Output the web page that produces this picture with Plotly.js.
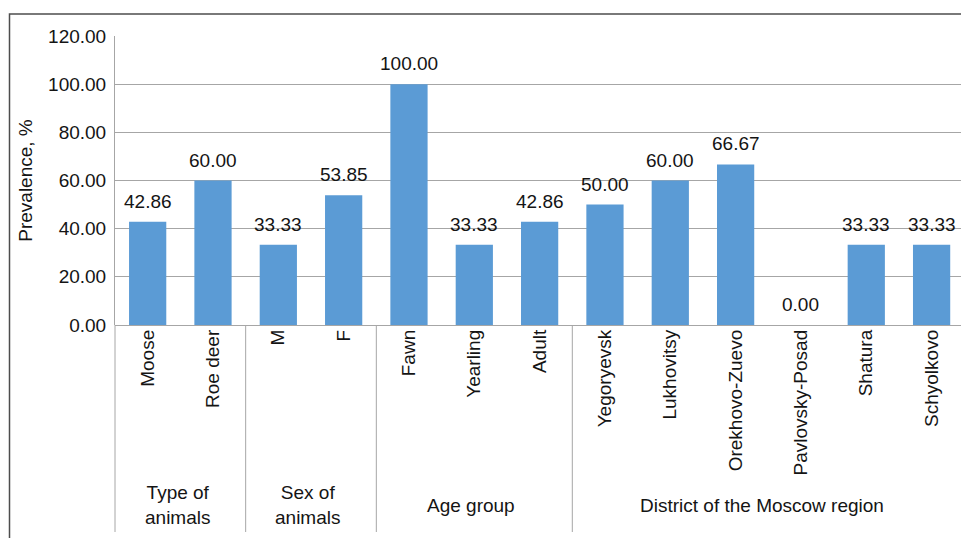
<!DOCTYPE html>
<html>
<head>
<meta charset="utf-8">
<script src="https://cdn.plot.ly/plotly-3.0.1.min.js"></script>
<style>
  html, body { margin: 0; padding: 0; background: #fff; }
  #chart { width: 961px; height: 538px; }
</style>
</head>
<body>
<div id="chart"></div>
<script>
// ---- data ----
const categories = ['Moose', 'Roe deer', 'M', 'F', 'Fawn', 'Yearling', 'Adult',
  'Yegoryevsk', 'Lukhovitsy', 'Orekhovo-Zuevo', 'Pavlovsky-Posad', 'Shatura', 'Schyolkovo'];
const prevalence = [42.86, 60.00, 33.33, 53.85, 100.00, 33.33, 42.86,
  50.00, 60.00, 66.67, 0.00, 33.33, 33.33];
const groupLabels = ['Type of<br>animals', 'Sex of<br>animals', 'Age group', 'District of the Moscow region'];
const groupSizes = [2, 2, 3, 6];
const yTitle = 'Prevalence, %';

// ---- layout constants ----
const W = 961, H = 538;
const M = { l: 115, r: 0, t: 36, b: 213 };
const xRange = [-0.5, 12.45];
const plotH = H - M.t - M.b;
const FONT = '"Liberation Sans", Arial, sans-serif';
const FS = 19;
const GRID = '#a6a6a6';
const TXT = '#141414';

const xToPaper = v => (v - xRange[0]) / (xRange[1] - xRange[0]);
const pyToPaper = py => (H - M.b - py) / plotH;

const trace = {
  type: 'bar',
  x: categories,
  y: prevalence,
  marker: { color: '#5b9bd5' },
  hoverinfo: 'x+y'
};

// value labels above bars
const annotations = categories.map((c, i) => ({
  x: c, y: prevalence[i], xref: 'x', yref: 'y',
  text: prevalence[i].toFixed(2),
  showarrow: false, yanchor: 'bottom', xanchor: 'center', yshift: 8,
  font: { family: FONT, size: FS, color: TXT }
}));

// group labels and separators
const shapes = [];
let start = 0;
const sepBottom = pyToPaper(532);
shapes.push({ type: 'line', xref: 'paper', yref: 'paper',
  x0: xToPaper(-0.5), x1: xToPaper(-0.5), y0: 0, y1: sepBottom,
  line: { color: GRID, width: 1 } });
groupSizes.forEach((n, g) => {
  const mid = start + (n - 1) / 2;
  annotations.push({
    x: xToPaper(mid), y: pyToPaper(505), xref: 'paper', yref: 'paper',
    text: groupLabels[g], showarrow: false, xanchor: 'center', yanchor: 'middle',
    xshift: g === groupSizes.length - 1 ? -6 : -3,
    font: { family: FONT, size: FS, color: TXT }
  });
  const end = start + n - 0.5;
  if (g < groupSizes.length - 1) {
    shapes.push({ type: 'line', xref: 'paper', yref: 'paper',
      x0: xToPaper(end), x1: xToPaper(end), y0: 0, y1: sepBottom,
      line: { color: GRID, width: 1 } });
  }
  start += n;
});

// outer frame (top and left edges visible)
const frameLeft = (9.5 - M.l) / (W - M.l - M.r);
shapes.push({ type: 'rect', xref: 'paper', yref: 'paper',
  x0: frameLeft, x1: 1.05, y0: -1.2, y1: pyToPaper(14),
  line: { color: '#4d4d4d', width: 1.5 }, fillcolor: 'rgba(0,0,0,0)' });

const layout = {
  width: W, height: H,
  margin: M,
  paper_bgcolor: '#fff', plot_bgcolor: '#fff',
  showlegend: false,
  bargap: 0.43,
  font: { family: FONT, size: FS, color: TXT },
  xaxis: {
    type: 'category',
    range: xRange,
    tickangle: -90,
    ticks: '',
    showgrid: false,
    showline: false,
    zeroline: false,
    tickfont: { family: FONT, size: FS, color: TXT },
    automargin: false
  },
  yaxis: {
    range: [0, 120],
    dtick: 20,
    tickformat: '.2f',
    showgrid: true,
    gridcolor: GRID,
    gridwidth: 1,
    zeroline: true,
    zerolinecolor: GRID,
    zerolinewidth: 1,
    showline: true,
    linecolor: GRID,
    linewidth: 1,
    ticks: '',
    ticklabelstandoff: 4,
    tickfont: { family: FONT, size: FS, color: TXT },
    title: { text: yTitle, font: { family: FONT, size: FS, color: TXT }, standoff: 10 },
    automargin: false
  },
  annotations: annotations,
  shapes: shapes
};

Plotly.newPlot('chart', [trace], layout, { displayModeBar: false, staticPlot: true });
</script>
</body>
</html>
